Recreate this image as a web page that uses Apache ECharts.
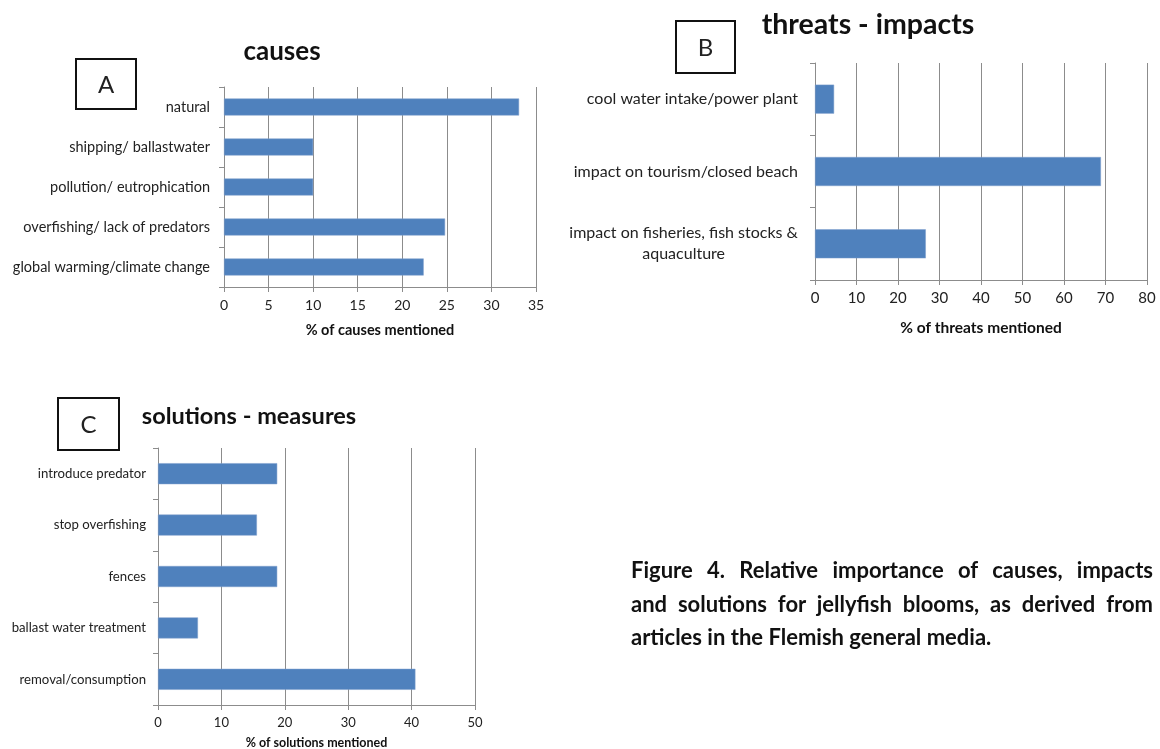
<!DOCTYPE html>
<html>
<head>
<meta charset="utf-8">
<script src="https://cdn.jsdelivr.net/npm/echarts@6/dist/echarts.min.js"></script>
<style>
  html, body { margin: 0; padding: 0; background: #fff; }
  #chart { width: 1160px; height: 749px; position: absolute; left: 0; top: 0; }
  #caption {
    position: absolute; left: 631px; top: 553px; width: 522px;
    font-family: Lato, "Open Sans", sans-serif; font-weight: bold; font-size: 22px;
    line-height: 33.5px; color: #111;
  }
  #caption div { white-space: nowrap; }
  #caption .j { text-align: justify; text-align-last: justify; }
</style>
</head>
<body>
<div id="chart"></div>
<div id="caption">
  <div class="j">Figure 4. Relative importance of causes, impacts</div>
  <div class="j">and solutions for jellyfish blooms, as derived from</div>
  <div>articles in the Flemish general media.</div>
</div>
<script>
// Panel A: causes
const causeLabels = ['natural', 'shipping/ ballastwater', 'pollution/ eutrophication',
  'overfishing/ lack of predators', 'global warming/climate change'];
const causeValues = [33.1, 10, 10, 24.8, 22.4];
const causeTicks = [0, 35, 5];

// Panel B: threats - impacts
const threatLabels = ['cool water intake/power plant', 'impact on tourism/closed beach',
  'impact on fisheries, fish stocks &\naquaculture'];
const threatValues = [4.6, 68.9, 26.7];
const threatTicks = [0, 80, 10];

// Panel C: solutions - measures
const solutionLabels = ['introduce predator', 'stop overfishing', 'fences',
  'ballast water treatment', 'removal/consumption'];
const solutionValues = [18.8, 15.6, 18.8, 6.3, 40.6];
const solutionTicks = [0, 50, 10];

const FONT = 'Lato, "Open Sans", sans-serif';
const BAR = '#4F81BD';
const GRID = '#8c8c8c';

function valueAxis(idx, ticks, name, nameGap, nameSize, labelSize) {
  return {
    type: 'value', gridIndex: idx, min: ticks[0], max: ticks[1], interval: ticks[2],
    name: name, nameLocation: 'middle', nameGap: nameGap,
    nameTextStyle: { fontFamily: FONT, fontWeight: 'bold', fontSize: nameSize, color: '#111' },
    axisLine: { show: true, lineStyle: { color: GRID, width: 1 } },
    axisTick: { show: true, length: 5, lineStyle: { color: GRID } },
    axisLabel: { fontFamily: FONT, fontSize: labelSize, color: '#222', margin: 11 },
    splitLine: { show: true, lineStyle: { color: GRID, width: 1 } }
  };
}

function categoryAxis(idx, labels, fontSize, margin, extra) {
  return Object.assign({
    type: 'category', gridIndex: idx, data: labels, inverse: true,
    axisLine: { show: true, lineStyle: { color: GRID, width: 1 } },
    axisTick: { show: true, length: 5, lineStyle: { color: GRID } },
    axisLabel: { fontFamily: FONT, fontSize: fontSize, color: '#222', margin: margin }
  }, extra || {});
}

function letterBox(x, y, w, h, letter) {
  return {
    type: 'group', left: x, top: y,
    children: [
      { type: 'rect', shape: { x: 0, y: 0, width: w, height: h },
        style: { fill: '#fff', stroke: '#111', lineWidth: 2 } },
      { type: 'text', x: w / 2, y: h / 2 + 1,
        style: { text: letter, fontFamily: FONT, fontSize: 24, fill: '#222',
                 align: 'center', verticalAlign: 'middle' } }
    ]
  };
}

function titleText(cx, cy, text, size) {
  return {
    type: 'text', x: cx, y: cy,
    style: { text: text, fontFamily: FONT, fontWeight: 'bold', fontSize: size, fill: '#111',
             align: 'center', verticalAlign: 'middle' }
  };
}

const chart = echarts.init(document.getElementById('chart'), null, { renderer: 'canvas' });

chart.setOption({
  backgroundColor: '#fff',
  animation: false,
  grid: [
    { left: 224, top: 87, width: 312, height: 200, outerBoundsMode: 'none' },
    { left: 815, top: 63, width: 332, height: 217, outerBoundsMode: 'none' },
    { left: 158, top: 448, width: 317, height: 257, outerBoundsMode: 'none' }
  ],
  xAxis: [
    valueAxis(0, causeTicks, '% of causes mentioned', 36, 14.5, 14),
    valueAxis(1, threatTicks, '% of threats mentioned', 40, 15.5, 15),
    valueAxis(2, solutionTicks, '% of solutions mentioned', 31, 12.5, 13)
  ],
  yAxis: [
    categoryAxis(0, causeLabels, 14.5, 14),
    categoryAxis(1, threatLabels, 16, 17, {
      axisLabel: {
        fontFamily: FONT, fontSize: 16, color: '#222', margin: 17, lineHeight: 21,
        formatter: function (v) {
          return v.split('\n').map(function (s) { return '{c|' + s + '}'; }).join('\n');
        },
        rich: { c: { align: 'center', fontFamily: FONT, fontSize: 16, color: '#222', lineHeight: 21 } }
      }
    }),
    categoryAxis(2, solutionLabels, 13.2, 12)
  ],
  series: [
    { type: 'bar', xAxisIndex: 0, yAxisIndex: 0, data: causeValues, barWidth: 17,
      itemStyle: { color: BAR, borderColor: '#7f9fcc', borderWidth: 0.5 } },
    { type: 'bar', xAxisIndex: 1, yAxisIndex: 1, data: threatValues, barWidth: 29,
      itemStyle: { color: BAR, borderColor: '#7f9fcc', borderWidth: 0.5 } },
    { type: 'bar', xAxisIndex: 2, yAxisIndex: 2, data: solutionValues, barWidth: 21,
      itemStyle: { color: BAR, borderColor: '#7f9fcc', borderWidth: 0.5 } }
  ],
  graphic: [
    letterBox(75, 58, 60, 50, 'A'),
    letterBox(675, 20, 59, 52, 'B'),
    letterBox(57, 397, 61, 52, 'C'),
    titleText(282, 52, 'causes', 26),
    titleText(868, 25, 'threats - impacts', 28.5),
    titleText(249, 416, 'solutions - measures', 23.5)
  ]
});
</script>
</body>
</html>
